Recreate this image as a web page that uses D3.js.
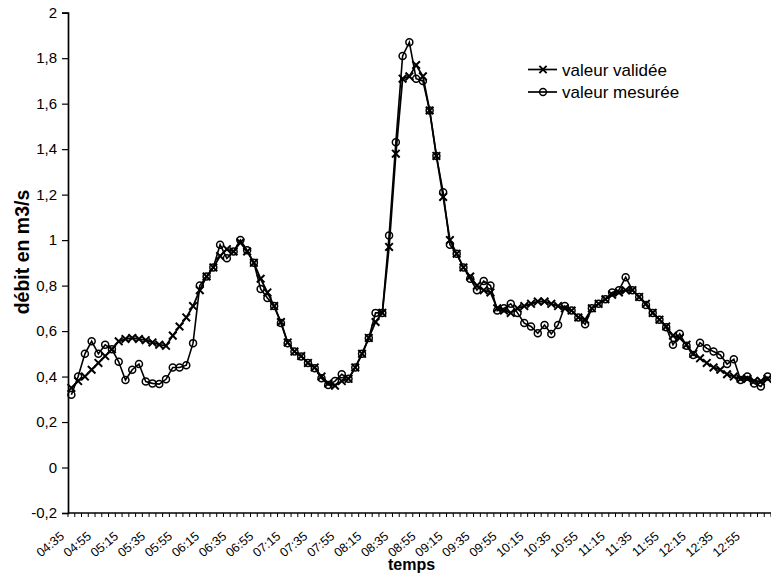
<!DOCTYPE html>
<html>
<head>
<meta charset="utf-8">
<script src="https://cdn.jsdelivr.net/npm/d3@7"></script>
<style>
  html, body { margin: 0; padding: 0; background: #fff; }
  svg { display: block; font-family: "Liberation Sans", Arial, sans-serif; }
</style>
</head>
<body>
<svg id="chart" width="771" height="574"></svg>
<script>
const times = ["04:35","04:40","04:45","04:50","04:55","05:00","05:05","05:10","05:15","05:20","05:25","05:30",
"05:35","05:40","05:45","05:50","05:55","06:00","06:05","06:10","06:15","06:20","06:25","06:30",
"06:35","06:40","06:45","06:50","06:55","07:00","07:05","07:10","07:15","07:20","07:25","07:30",
"07:35","07:40","07:45","07:50","07:55","08:00","08:05","08:10","08:15","08:20","08:25","08:30",
"08:35","08:40","08:45","08:50","08:55","09:00","09:05","09:10","09:15","09:20","09:25","09:30",
"09:35","09:40","09:45","09:50","09:55","10:00","10:05","10:10","10:15","10:20","10:25","10:30",
"10:35","10:40","10:45","10:50","10:55","11:00","11:05","11:10","11:15","11:20","11:25","11:30",
"11:35","11:40","11:45","11:50","11:55","12:00","12:05","12:10","12:15","12:20","12:25","12:30",
"12:35","12:40","12:45","12:50","12:55","13:00","13:05","13:10"];

const valeurValidee = [0.35,0.38,0.40,0.43,0.46,0.49,0.52,0.555,0.565,0.57,0.565,0.56,
0.55,0.54,0.535,0.58,0.62,0.66,0.71,0.78,0.84,0.88,0.93,0.96,
0.95,0.99,0.95,0.90,0.83,0.77,0.71,0.64,0.55,0.51,0.49,0.46,
0.44,0.40,0.37,0.36,0.38,0.39,0.44,0.50,0.57,0.64,0.68,0.97,
1.38,1.71,1.72,1.77,1.72,1.57,1.37,1.19,1.00,0.94,0.88,0.84,
0.80,0.78,0.77,0.70,0.69,0.68,0.70,0.71,0.72,0.73,0.73,0.72,
0.71,0.70,0.69,0.66,0.65,0.70,0.72,0.74,0.76,0.77,0.78,0.78,
0.75,0.72,0.68,0.65,0.62,0.58,0.57,0.54,0.50,0.48,0.46,0.44,
0.43,0.41,0.40,0.39,0.39,0.38,0.38,0.39];

const valeurMesuree = [0.32,0.40,0.50,0.555,0.50,0.54,0.52,0.465,0.385,0.43,0.455,0.378,
0.37,0.367,0.388,0.44,0.44,0.45,0.547,0.80,0.84,0.88,0.98,0.92,
0.95,1.00,0.955,0.90,0.785,0.745,0.71,0.635,0.547,0.51,0.488,0.46,
0.437,0.393,0.363,0.38,0.41,0.39,0.44,0.50,0.57,0.68,0.68,1.02,
1.43,1.81,1.87,1.71,1.70,1.57,1.37,1.21,0.98,0.94,0.88,0.83,
0.78,0.82,0.80,0.69,0.70,0.72,0.68,0.635,0.62,0.59,0.627,0.587,
0.627,0.71,0.69,0.66,0.63,0.70,0.72,0.74,0.77,0.78,0.837,0.78,
0.75,0.715,0.68,0.65,0.617,0.54,0.588,0.535,0.495,0.549,0.524,0.51,
0.495,0.455,0.476,0.385,0.40,0.37,0.356,0.40];

const yTicks = [-0.2,0,0.2,0.4,0.6,0.8,1,1.2,1.4,1.6,1.8,2];
const xTickLabels = times.filter((t, i) => i % 4 === 0 && i <= 100);
const seriesNames = ["valeur validée", "valeur mesurée"];

const svg = d3.select("#chart");
const mLeft = 68, mRight = 771, mTop = 12.7, mBottom = 513;

const x = d3.scaleBand().domain(times).range([mLeft, mRight]).padding(0);
const y = d3.scaleLinear().domain([-0.2, 2]).range([mBottom, mTop]);
const cx = t => x(t) + x.bandwidth() / 2;

const fmt = v => String(Math.round(v * 10) / 10).replace(".", ",");

// Y axis
const yAxis = d3.axisLeft(y).tickValues(yTicks).tickSize(6).tickPadding(5).tickFormat(fmt);
const gy = svg.append("g").attr("transform", `translate(${mLeft},0)`).call(yAxis);
gy.select(".domain").attr("stroke", "#000").attr("stroke-width", 1.7);
gy.selectAll(".tick line").attr("stroke", "#000").attr("stroke-width", 1.2);
gy.selectAll(".tick text").attr("font-size", 15).attr("fill", "#000")
  .attr("font-family", "Liberation Sans, Arial, sans-serif");

// X axis: ticks at category boundaries
const gx = svg.append("g");
gx.append("line").attr("x1", mLeft).attr("x2", mRight).attr("y1", mBottom).attr("y2", mBottom)
  .attr("stroke", "#000").attr("stroke-width", 1.7);
const boundaries = times.map(t => x(t)).concat([mRight]);
gx.selectAll("line.tk").data(boundaries).join("line").attr("class", "tk")
  .attr("x1", d => d).attr("x2", d => d).attr("y1", mBottom).attr("y2", mBottom + 4)
  .attr("stroke", "#000").attr("stroke-width", 1);
gx.selectAll("text.xl").data(xTickLabels).join("text").attr("class", "xl")
  .attr("transform", d => `translate(${cx(d) - 6.4},${mBottom + 24.5}) rotate(-40)`)
  .attr("text-anchor", "end").attr("font-size", 12.5).attr("fill", "#000").text(d => d);

// Axis titles
svg.append("text").attr("transform", `translate(${mLeft + (mRight - mLeft) / 2 - 8},570)`)
  .attr("text-anchor", "middle").attr("font-size", 16).attr("font-weight", "bold").text("temps");
svg.append("text").attr("transform", `translate(29,252) rotate(-90)`)
  .attr("text-anchor", "middle").attr("font-size", 19.5).attr("font-weight", "bold").text("débit en m3/s");

// Series
const line = d3.line().x((d, i) => cx(times[i])).y(d => y(d));
const gS = svg.append("g");
gS.append("path").datum(valeurValidee).attr("d", line).attr("fill", "none").attr("stroke", "#000").attr("stroke-width", 1.8);
gS.append("path").datum(valeurMesuree).attr("d", line).attr("fill", "none").attr("stroke", "#000").attr("stroke-width", 1.6);

const crossPath = (px, py, s) => `M${px - s},${py - s}L${px + s},${py + s}M${px - s},${py + s}L${px + s},${py - s}`;
gS.selectAll("path.cross").data(valeurValidee).join("path").attr("class", "cross")
  .attr("d", (d, i) => crossPath(cx(times[i]), y(d), 3.8))
  .attr("stroke", "#000").attr("stroke-width", 2).attr("fill", "none");
gS.selectAll("circle.meas").data(valeurMesuree).join("circle").attr("class", "meas")
  .attr("cx", (d, i) => cx(times[i])).attr("cy", d => y(d)).attr("r", 3.5)
  .attr("fill", "none").attr("stroke", "#000").attr("stroke-width", 1.5);

// Legend
const lg = svg.append("g");
const legY = [69.5, 92];
seriesNames.forEach((name, i) => {
  const yy = legY[i];
  lg.append("line").attr("x1", 528).attr("x2", 557).attr("y1", yy).attr("y2", yy)
    .attr("stroke", "#000").attr("stroke-width", 1.7);
  if (i === 0) {
    lg.append("path").attr("d", crossPath(543, yy, 3.6)).attr("stroke", "#000").attr("stroke-width", 2);
  } else {
    lg.append("circle").attr("cx", 543).attr("cy", yy).attr("r", 3.4).attr("fill", "none")
      .attr("stroke", "#000").attr("stroke-width", 1.5);
  }
  lg.append("text").attr("x", 562).attr("y", yy + 6).attr("font-size", 17).attr("fill", "#000").text(name);
});
</script>
</body>
</html>
